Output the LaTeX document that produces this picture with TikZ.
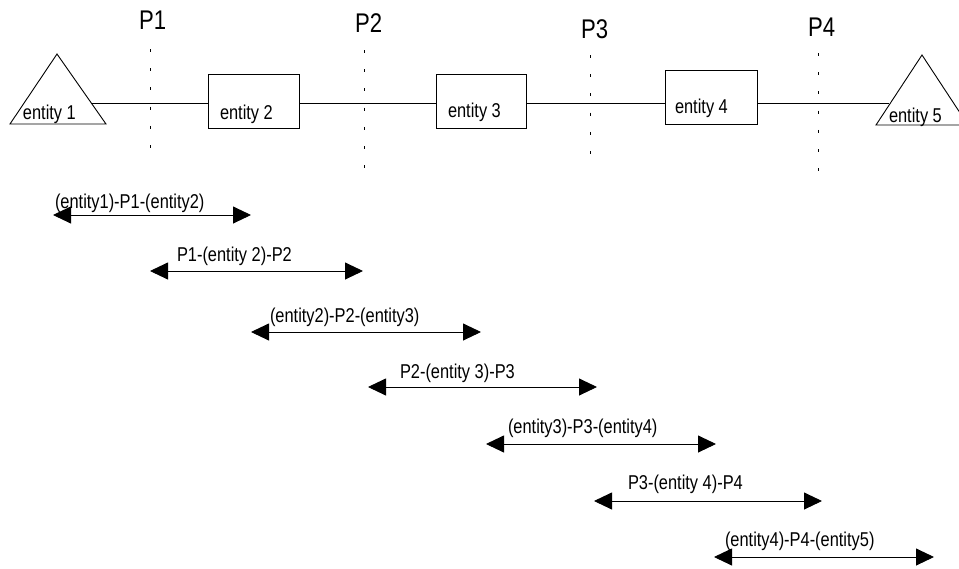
\documentclass[tikz,border=0pt]{standalone}
\usepackage{fontspec}
\setmainfont{Liberation Sans}[FakeStretch=0.82]
\usetikzlibrary{arrows.meta}
\begin{document}
\begin{tikzpicture}[x=1pt,y=-1pt,
  every node/.style={inner sep=0pt,outer sep=0pt},
  small/.style={font=\fontsize{20}{22}\selectfont,anchor=base west},
  plabel/.style={font=\fontsize{27}{30}\selectfont,anchor=base west},
  entbox/.style={draw,line width=0.9pt,rectangle,minimum width=#1,minimum height=54pt},
  dotline/.style={draw=black,line width=1pt,dash pattern=on 3pt off 16.2pt},
  dbl/.style={draw=black,line width=0.9pt,{Triangle[length=18pt,width=17pt]}-{Triangle[length=18pt,width=17pt]}},
  wire/.style={draw,line width=0.9pt}]
\useasboundingbox (0,0) rectangle (959,568);
% entity 1 triangle
\draw[line width=0.9pt] (57,54) -- (106,124) -- (10,124) -- cycle;
\coordinate (e1r) at (91.3,103);
\node[small] (t1) at (23,119) {entity 1};
% entity 5 triangle
\draw[line width=0.9pt] (922,55) -- (968,125) -- (876,125) -- cycle;
\coordinate (e5l) at (889,103);
\node[small] (t5) at (889,122) {entity 5};
% boxes
\node[entbox=91pt] (b2) at (253.5,101) {};
\node[entbox=90pt] (b3) at (481,101) {};
\node[entbox=92pt] (b4) at (711,97) {};
\node[small] (t2) at (220,119) {entity 2};
\node[small] (t3) at (448,117) {entity 3};
\node[small] (t4) at (675,113) {entity 4};
% main line
\draw[wire] (e1r) -- (e1r -| b2.west);
\draw[wire] (e1r -| b2.east) -- (e1r -| b3.west);
\draw[wire] (e1r -| b3.east) -- (e1r -| b4.west);
\draw[wire] (e1r -| b4.east) -- (e5l);
% P labels and dotted lines
\node[plabel] (p1) at (139,29) {P1};
\node[plabel] (p2) at (355,32) {P2};
\node[plabel] (p3) at (581,38) {P3};
\node[plabel] (p4) at (808,36) {P4};
\coordinate (d1a) at (150.7,49); \coordinate (d1b) at (150.7,150);
\coordinate (d2a) at (364,50);   \coordinate (d2b) at (364,168);
\coordinate (d3a) at (590,55);   \coordinate (d3b) at (590,160);
\coordinate (d4a) at (818,53);   \coordinate (d4b) at (818,173);
\draw[dotline] (d1a) -- (d1b);
\draw[dotline] (d2a) -- (d2b);
\draw[dotline] (d3a) -- (d3b);
\draw[dotline] (d4a) -- (d4b);
% range arrows
\coordinate (r1s) at (53,215);  \coordinate (r1e) at (251,215);
\coordinate (r2s) at (150,271); \coordinate (r2e) at (363,271);
\coordinate (r3s) at (251,332); \coordinate (r3e) at (481,332);
\coordinate (r4s) at (368,387); \coordinate (r4e) at (597,387);
\coordinate (r5s) at (486,444); \coordinate (r5e) at (716,444);
\coordinate (r6s) at (594,501); \coordinate (r6e) at (822,501);
\coordinate (r7s) at (714,557); \coordinate (r7e) at (934,557);
\draw[dbl] (r1s) -- (r1e);
\draw[dbl] (r2s) -- (r2e);
\draw[dbl] (r3s) -- (r3e);
\draw[dbl] (r4s) -- (r4e);
\draw[dbl] (r5s) -- (r5e);
\draw[dbl] (r6s) -- (r6e);
\draw[dbl] (r7s) -- (r7e);
\node[small] (l1) at (55,208) {(entity1)-P1-(entity2)};
\node[small] (l2) at (177,261) {P1-(entity 2)-P2};
\node[small] (l3) at (270,322) {(entity2)-P2-(entity3)};
\node[small] (l4) at (400,378) {P2-(entity 3)-P3};
\node[small] (l5) at (508,433.5) {(entity3)-P3-(entity4)};
\node[small] (l6) at (628,489.5) {P3-(entity 4)-P4};
\node[small] (l7) at (725,546) {(entity4)-P4-(entity5)};
\end{tikzpicture}
\end{document}
